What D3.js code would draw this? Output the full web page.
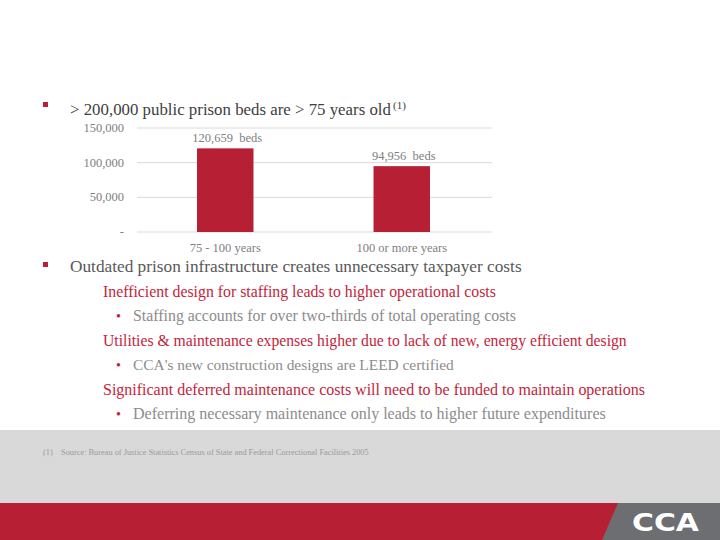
<!DOCTYPE html>
<html><head><meta charset="utf-8">
<script src="https://cdn.jsdelivr.net/npm/d3@7"></script>
<style>html,body{margin:0;padding:0;background:#fff;}svg{display:block;}</style>
</head><body>
<svg id="c" width="720" height="540"></svg>
<script>
const categories = ["75 - 100 years", "100 or more years"];
const beds = [120659, 94956];
const barLabels = ["120,659  beds", "94,956  beds"];
const yTicks = [0, 50000, 100000, 150000];
const yTickLabels = ["-", "50,000", "100,000", "150,000"];
const title = "> 200,000 public prison beds are > 75 years old";
const heading2 = "Outdated prison infrastructure creates unnecessary taxpayer costs";
const redLines = ["Inefficient design for staffing leads to higher operational costs",
  "Utilities & maintenance expenses higher due to lack of new, energy efficient design",
  "Significant deferred maintenance costs will need to be funded to maintain operations"];
const grayLines = ["Staffing accounts for over two-thirds of total operating costs",
  "CCA's new construction designs are LEED certified",
  "Deferring necessary maintenance only leads to higher future expenditures"];
const footnote = "(1)    Source: Bureau of Justice Statistics Census of State and Federal Correctional Facilities 2005";

// layout (target text widths in px)
const redW = [393, 524, 542], grayW = [383, 321, 473];
const redY = [297, 346, 395], grayY = [321, 370, 419];

const svg = d3.select("#c");
const RED = "#b72034", SERIF = "'Liberation Serif', 'DejaVu Serif', serif";

function fit(sel, w) {
  sel.each(function(d, i) {
    const tw = typeof w === "function" ? w(d, i) : w;
    const fs = parseFloat(this.getAttribute("font-size"));
    const len = this.getComputedTextLength();
    if (len > 0) this.setAttribute("font-size", (fs * tw / len).toFixed(2));
  });
  return sel;
}

// background bands
svg.append("rect").attr("x",0).attr("y",430).attr("width",720).attr("height",73).attr("fill","#d9d9d9");
svg.append("rect").attr("x",0).attr("y",503).attr("width",720).attr("height",37).attr("fill",RED);
svg.append("path").attr("d","M618,503 L720,503 L720,540 L602,540 Z").attr("fill","#6d6e71");
svg.append("text").attr("x",632).attr("y",531).attr("fill","#fff")
  .attr("font-family","'DejaVu Sans', sans-serif").attr("font-weight","bold").attr("font-size",24)
  .attr("textLength",67).attr("lengthAdjust","spacingAndGlyphs").text("CCA");

// title bullet
svg.append("rect").attr("x",43).attr("y",102).attr("width",5).attr("height",5).attr("fill",RED);
const t = svg.append("text").attr("x",70).attr("y",115).attr("fill","#404040")
  .attr("font-family",SERIF).attr("font-size",17).text(title);
fit(t, 321);
svg.append("text").attr("x",393).attr("y",109).attr("fill","#404040")
  .attr("font-family",SERIF).attr("font-size",11).text("(1)");

// chart
const x = d3.scaleBand().domain(categories).range([137,490]).paddingInner(0.68).paddingOuter(0.34);
const y = d3.scaleLinear().domain([0,150000]).range([232,128]);
const g = svg.append("g");
g.selectAll("line.grid").data(yTicks).join("line").attr("class","grid")
  .attr("x1",137).attr("x2",492).attr("y1",d=>y(d)).attr("y2",d=>y(d))
  .attr("stroke","#d9d9d9").attr("stroke-width",1);
g.selectAll("text.yt").data(yTicks).join("text").attr("class","yt")
  .attr("x",124).attr("y",d=>y(d)+4).attr("text-anchor","end").attr("fill","#808080")
  .attr("font-family",SERIF).attr("font-size",12.5).text((d,i)=>yTickLabels[i]);
g.selectAll("rect.bar").data(beds).join("rect").attr("class","bar")
  .attr("x",(d,i)=>x(categories[i])).attr("width",x.bandwidth())
  .attr("y",d=>y(d)).attr("height",d=>y(0)-y(d)).attr("fill",RED);
g.selectAll("text.bl").data(beds).join("text").attr("class","bl")
  .attr("x",(d,i)=>x(categories[i])+x.bandwidth()/2+2).attr("y",d=>y(d)-6)
  .attr("text-anchor","middle").attr("fill","#808080").attr("font-family",SERIF).attr("font-size",12.5)
  .style("white-space","pre").text((d,i)=>barLabels[i]);
g.selectAll("text.xl").data(categories).join("text").attr("class","xl")
  .attr("x",d=>x(d)+x.bandwidth()/2).attr("y",252).attr("text-anchor","middle")
  .attr("fill","#808080").attr("font-family",SERIF).attr("font-size",12.5).text(d=>d);

// second bullet
svg.append("rect").attr("x",43).attr("y",262).attr("width",5).attr("height",5).attr("fill",RED);
fit(svg.append("text").attr("x",70).attr("y",272).attr("fill","#595959").attr("font-family",SERIF)
  .attr("font-size",17).text(heading2), 452);

fit(svg.selectAll("text.red").data(redLines).join("text").attr("class","red")
  .attr("x",103).attr("y",(d,i)=>redY[i]).attr("fill","#c41e3a").attr("font-family",SERIF)
  .attr("font-size",16).text(d=>d), (d,i)=>redW[i]);
svg.selectAll("text.gb").data(grayLines).join("text").attr("class","gb")
  .attr("x",116).attr("y",(d,i)=>grayY[i]).attr("fill","#c41e3a").attr("font-family",SERIF)
  .attr("font-size",14).text("•");
fit(svg.selectAll("text.gray").data(grayLines).join("text").attr("class","gray")
  .attr("x",133).attr("y",(d,i)=>grayY[i]).attr("fill","#8c8c8c").attr("font-family",SERIF)
  .attr("font-size",15).text(d=>d), (d,i)=>grayW[i]);

fit(svg.append("text").attr("x",43).attr("y",455).attr("fill","#999").attr("font-family",SERIF)
  .attr("font-size",8).style("white-space","pre").text(footnote), 326);
</script>
</body></html>
